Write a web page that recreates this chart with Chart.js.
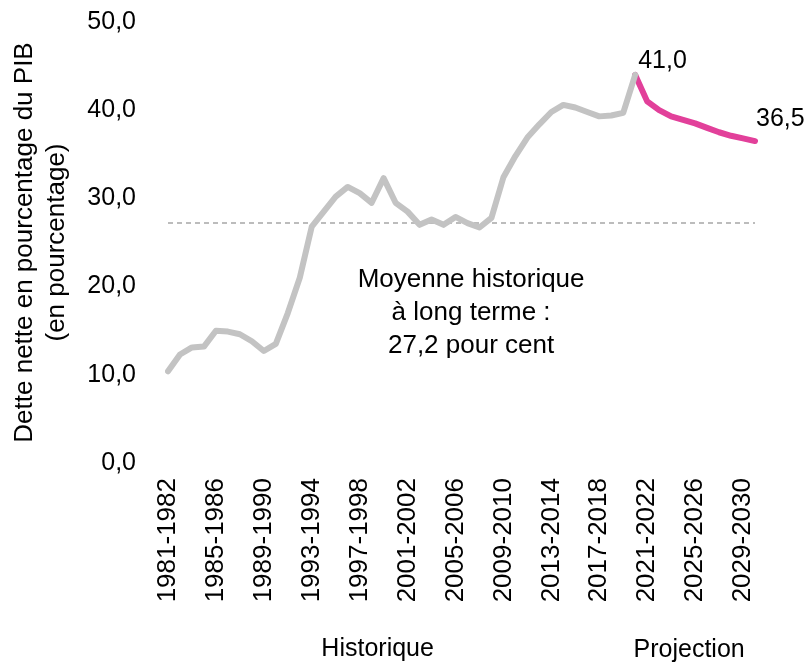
<!DOCTYPE html>
<html>
<head>
<meta charset="utf-8">
<script src="https://cdn.jsdelivr.net/npm/chart.js@4.4.1/dist/chart.umd.min.js"></script>
<style>
  html, body { margin: 0; padding: 0; background: #ffffff; }
  #wrap { width: 807px; height: 662px; }
</style>
</head>
<body>
<div id="wrap"><canvas id="chart"></canvas></div>
<script>
const years = [
  '1981-1982', '1982-1983', '1983-1984', '1984-1985', '1985-1986', '1986-1987', '1987-1988', '1988-1989',
  '1989-1990', '1990-1991', '1991-1992', '1992-1993', '1993-1994', '1994-1995', '1995-1996', '1996-1997',
  '1997-1998', '1998-1999', '1999-2000', '2000-2001', '2001-2002', '2002-2003', '2003-2004', '2004-2005',
  '2005-2006', '2006-2007', '2007-2008', '2008-2009', '2009-2010', '2010-2011', '2011-2012', '2012-2013',
  '2013-2014', '2014-2015', '2015-2016', '2016-2017', '2017-2018', '2018-2019', '2019-2020', '2020-2021',
  '2021-2022', '2022-2023', '2023-2024', '2024-2025', '2025-2026', '2026-2027', '2027-2028', '2028-2029',
  '2029-2030', '2030-2031'
];

// historique : 1981-1982 a 2020-2021
const historique = [
  10.4, 12.3, 13.1, 13.2, 15.0, 14.9, 14.6, 13.8, 12.7, 13.5,
  17.0, 21.0, 26.8, 28.5, 30.2, 31.3, 30.6, 29.5, 32.3, 29.5,
  28.5, 27.0, 27.6, 27.0, 27.9, 27.2, 26.7, 27.8, 32.4, 34.8,
  36.9, 38.4, 39.8, 40.6, 40.3, 39.8, 39.3, 39.4, 39.7, 44.0
];

// projection : 2020-2021 a 2030-2031
const projection = [44.0, 41.0, 40.0, 39.3, 38.9, 38.5, 38.0, 37.5, 37.1, 36.8, 36.5];

const moyenneHistorique = 27.2;
const yTicks = [0, 10, 20, 30, 40, 50];

const FONT = "'Liberation Sans', Arial, Helvetica, sans-serif";

const histData = years.map((y, i) => (i < historique.length ? historique[i] : null));
const projStart = historique.length - 1;
const projData = years.map((y, i) => (i >= projStart ? projection[i - projStart] : null));

function fmt(v) {
  return v.toFixed(1).replace('.', ',');
}

const extras = {
  id: 'extras',
  beforeDatasetsDraw(chart) {
    const { ctx, scales: { x, y } } = chart;
    const yp = y.getPixelForValue(moyenneHistorique);
    ctx.save();
    ctx.strokeStyle = '#a6a6a6';
    ctx.lineWidth = 1.5;
    ctx.setLineDash([5, 4]);
    ctx.beginPath();
    ctx.moveTo(x.getPixelForValue(0), yp);
    ctx.lineTo(x.getPixelForValue(years.length - 1), yp);
    ctx.stroke();
    ctx.restore();
  },
  afterDraw(chart) {
    const { ctx, scales: { x, y } } = chart;
    ctx.save();
    ctx.fillStyle = '#000000';
    ctx.font = '26px ' + FONT;
    ctx.textAlign = 'center';
    ctx.textBaseline = 'middle';

    // annotation moyenne
    const ax = x.getPixelForValue(25.3);
    const note = ['Moyenne historique', 'à long terme :', '27,2 pour cent'];
    note.forEach((t, k) => ctx.fillText(t, ax, y.getPixelForValue(20.8) + k * 33));

    // etiquettes des valeurs
    const meta = chart.getDatasetMeta(1);
    const p1 = meta.data[projStart + 1];
    const pLast = meta.data[years.length - 1];
    ctx.font = '25px ' + FONT;
    ctx.textAlign = 'left';
    ctx.fillText(fmt(projection[1]), p1.x - 9, p1.y - 40);
    ctx.fillText(fmt(projection[projection.length - 1]), pLast.x + 1, pLast.y - 22);

    // legendes sous l'axe
    ctx.textAlign = 'center';
    ctx.fillText('Historique', x.getPixelForValue(17.5), 649);
    ctx.fillText('Projection', x.getPixelForValue(43.5), 650);
    ctx.restore();
  }
};

new Chart(document.getElementById('chart'), {
  type: 'line',
  data: {
    labels: years,
    datasets: [
      {
        label: 'Historique',
        data: histData,
        borderColor: '#c3c3c3',
        borderWidth: 6,
        pointRadius: 0,
        tension: 0,
        borderJoinStyle: 'round',
        borderCapStyle: 'round'
      },
      {
        label: 'Projection',
        data: projData,
        borderColor: '#e2409a',
        borderWidth: 6,
        pointRadius: 0,
        tension: 0,
        borderJoinStyle: 'round',
        borderCapStyle: 'round'
      }
    ]
  },
  options: {
    responsive: true,
    maintainAspectRatio: false,
    animation: false,
    events: [],
    layout: { padding: { top: 0, right: 52, left: 0, bottom: 0 } },
    plugins: {
      legend: { display: false },
      tooltip: { enabled: false }
    },
    scales: {
      x: {
        offset: false,
        grid: { display: false, drawTicks: false },
        border: { display: false },
        ticks: {
          autoSkip: false,
          maxRotation: 90,
          minRotation: 90,
          padding: 15,
          color: '#000000',
          font: { family: FONT, size: 26 },
          callback: function (value, index) {
            return index % 4 === 0 ? years[index] : '';
          }
        },
        afterFit(scale) {
          scale.height = 199;
          scale.paddingTop = 0;
          scale.paddingBottom = 0;
        }
      },
      y: {
        min: 0,
        max: 50,
        grid: { display: false, drawTicks: false },
        border: { display: false },
        afterBuildTicks(scale) {
          scale.ticks = yTicks.map(v => ({ value: v }));
        },
        ticks: {
          padding: 32,
          color: '#000000',
          font: { family: FONT, size: 25 },
          callback: function (value) { return fmt(value); }
        },
        title: {
          display: true,
          text: ['Dette nette en pourcentage du PIB', '(en pourcentage)'],
          color: '#000000',
          font: { family: FONT, size: 26, lineHeight: 1.23 },
          padding: { top: 9, bottom: 0 }
        },
        afterFit(scale) {
          scale.width = 168;
          scale.paddingTop = 22;
          scale.paddingBottom = 0;
        }
      }
    }
  },
  plugins: [extras]
});
</script>
</body>
</html>
